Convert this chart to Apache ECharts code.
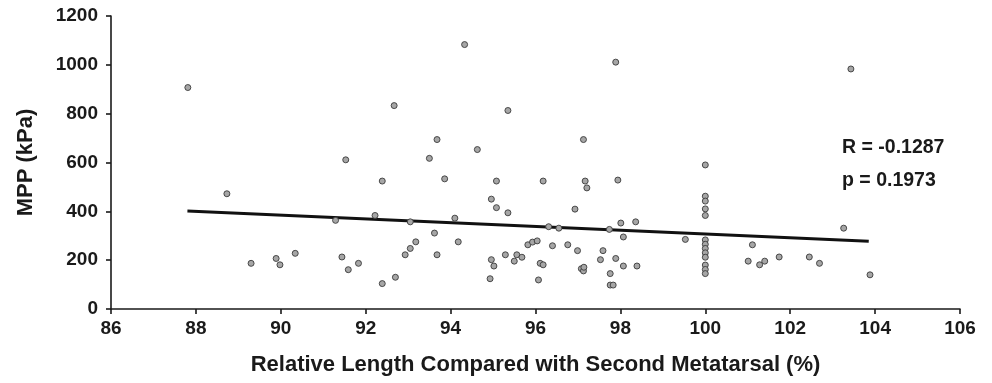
<!DOCTYPE html>
<html>
<head>
<meta charset="utf-8">
<script src="https://cdn.jsdelivr.net/npm/echarts@6/dist/echarts.min.js"></script>
<style>
html,body{margin:0;padding:0;background:#fff;}
#chart{width:992px;height:383px;}
</style>
</head>
<body>
<div id="chart"></div>
<script>
// Relative length (%) for each subject
const xValues = [
  87.81, 88.73, 89.30, 89.89, 89.98, 90.34, 91.29, 91.53, 91.44, 91.59,
  91.83, 92.22, 92.39, 92.39, 92.67, 92.70, 92.93, 93.05, 93.18, 93.05,
  93.50, 93.68, 93.62, 93.68, 93.86, 94.10, 94.18, 94.33, 94.63, 94.96,
  95.08, 95.08, 94.96, 95.02, 94.93, 95.35, 95.35, 95.29, 95.50, 95.56,
  95.68, 95.82, 95.93, 96.04, 96.11, 96.18, 96.07, 96.18, 96.31, 96.40,
  96.55, 96.76, 96.93, 96.99, 97.13, 97.17, 97.21, 97.08, 97.13, 97.14,
  97.53, 97.59, 97.74, 97.76, 97.76, 97.83, 97.89, 97.94, 97.89, 98.01,
  98.07, 98.07, 98.36, 98.39, 99.53, 100, 100, 100, 100, 100,
  100, 100, 100, 100, 100, 100, 100, 100, 101.01, 101.11,
  101.28, 101.40, 101.74, 102.45, 102.69, 103.26, 103.43, 103.88
];
// MPP (kPa) for each subject
const yValues = [
  907, 472, 187, 207, 181, 228, 363, 611, 213, 161,
  187, 383, 524, 104, 833, 130, 222, 248, 275, 357,
  617, 694, 311, 222, 533, 372, 275, 1083, 653, 450,
  415, 524, 202, 176, 124, 813, 394, 222, 196, 222,
  212, 263, 274, 279, 187, 181, 119, 524, 337, 259,
  331, 263, 409, 239, 694, 524, 496, 165, 156, 171,
  202, 239, 326, 145, 98, 98, 1011, 528, 207, 352,
  295, 176, 357, 176, 285, 590, 462, 442, 410, 383,
  283, 265, 248, 230, 212, 180, 162, 145, 196, 263,
  181, 196, 213, 213, 187, 331, 983, 140
];
// Regression line end points
const trendX = [87.8, 103.85];
const trendY = [401, 277];
// Axis ticks
const xTicks = [86, 88, 90, 92, 94, 96, 98, 100, 102, 104, 106];
const yTicks = [0, 200, 400, 600, 800, 1000, 1200];
const statLines = ['R = -0.1287', 'p = 0.1973'];

const FONT = '"Liberation Sans", Arial, Helvetica, sans-serif';
const chart = echarts.init(document.getElementById('chart'), null, {renderer: 'canvas'});

const scatterData = xValues.map((x, i) => [x, yValues[i]]);
const trendData = trendX.map((x, i) => [x, trendY[i]]);

const axisLine = {show: true, onZero: false, lineStyle: {color: '#1a1a1a', width: 1.6}};
const axisTick = {show: true, inside: false, length: 5, lineStyle: {color: '#1a1a1a', width: 1.6}};

chart.setOption({
  animation: false,
  backgroundColor: '#ffffff',
  grid: {left: 111, right: 32, top: 16, bottom: 74, containLabel: false},
  xAxis: {
    type: 'value',
    min: xTicks[0], max: xTicks[xTicks.length - 1], interval: 2,
    axisLine: axisLine, axisTick: axisTick,
    splitLine: {show: false},
    axisLabel: {color: '#1a1a1a', fontFamily: FONT, fontWeight: 'bold', fontSize: 19, margin: 10,
      formatter: v => String(v)},
    name: 'Relative Length Compared with Second Metatarsal (%)',
    nameLocation: 'middle', nameGap: 45,
    nameTextStyle: {color: '#1a1a1a', fontFamily: FONT, fontWeight: 'bold', fontSize: 22}
  },
  yAxis: {
    type: 'value',
    min: yTicks[0], max: yTicks[yTicks.length - 1], interval: 200,
    axisLine: axisLine, axisTick: axisTick,
    splitLine: {show: false},
    axisLabel: {color: '#1a1a1a', fontFamily: FONT, fontWeight: 'bold', fontSize: 19, margin: 13,
      formatter: v => String(v)},
    name: 'MPP (kPa)',
    nameLocation: 'middle', nameGap: 74, nameRotate: 90,
    nameTextStyle: {color: '#1a1a1a', fontFamily: FONT, fontWeight: 'bold', fontSize: 22}
  },
  series: [
    {
      type: 'line',
      data: trendData,
      showSymbol: false,
      symbol: 'none',
      lineStyle: {color: '#111111', width: 3},
      z: 2
    },
    {
      type: 'scatter',
      data: scatterData,
      symbol: 'circle',
      symbolSize: 6,
      itemStyle: {color: '#a6a6a6', borderColor: '#3a3a3a', borderWidth: 0.9, opacity: 1},
      z: 3
    }
  ],
  graphic: [
    {type: 'text', left: 842, top: 138, style: {text: statLines[0], fill: '#1a1a1a', font: 'bold 19.5px ' + FONT}},
    {type: 'text', left: 842, top: 171, style: {text: statLines[1], fill: '#1a1a1a', font: 'bold 19.5px ' + FONT}}
  ]
});
</script>
</body>
</html>
